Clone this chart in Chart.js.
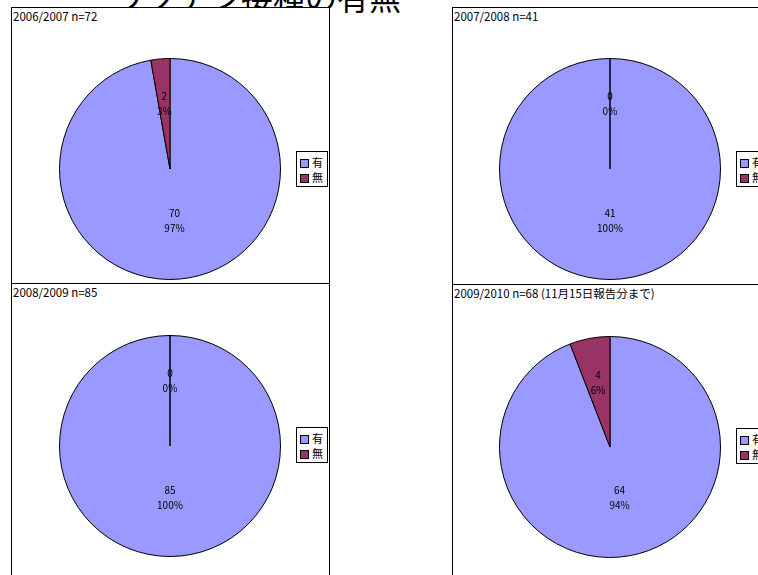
<!DOCTYPE html>
<html>
<head>
<meta charset="utf-8">
<script src="https://cdn.jsdelivr.net/npm/chart.js@4.4.0/dist/chart.umd.min.js"></script>
<style>
  html, body { margin: 0; padding: 0; background: #fff; width: 758px; height: 575px; overflow: hidden; position: relative; }
  .box { position: absolute; border: 1px solid #000; box-sizing: border-box; background: #fff; }
  .hdr { position: absolute; left: 1px; top: 1px; font: 11.5px "Noto Sans CJK JP", sans-serif; color: #000; white-space: nowrap; line-height: 14px; }
  canvas { position: absolute; }
  .legend { position: absolute; border: 1px solid #000; background: #fff; box-sizing: border-box; width: 32px; height: 36px; font: 11px "Noto Sans CJK JP", sans-serif; }
  .legend .it { position: absolute; left: 3px; height: 14px; line-height: 14px; white-space: nowrap; }
  .legend .sw { display: inline-block; width: 7px; height: 7px; border: 1px solid #000; vertical-align: middle; margin-right: 3px; margin-top: -2px; }
  .title { position: absolute; left: 0; width: 514px; top: -24px; text-align: center; font: 32px "Noto Sans CJK JP", sans-serif; font-weight: 400; color: #000; white-space: nowrap; line-height: 40px; }
</style>
</head>
<body>
<div class="title" id="title"></div>
<script>
// ---- data ----
const pageTitle = "ワクチン接種の有無";
const categories = ["有", "無"];
const chartTitles = ["2006/2007 n=72", "2007/2008 n=41", "2008/2009 n=85", "2009/2010 n=68 (11月15日報告分まで)"];
const values2006 = [70, 2];
const values2007 = [41, 0];
const values2008 = [85, 0];
const values2009 = [64, 4];
const sliceColors = ["#9999FF", "#993366"];

document.getElementById('title').textContent = pageTitle;

const panels = [
  { values: values2006, title: chartTitles[0], box: [11, 7, 319, 277], cv: [50, 49], lg: [296, 151], noBottom: false },
  { values: values2007, title: chartTitles[1], box: [452, 7, 320, 277], cv: [490, 49], lg: [736, 151], noBottom: true },
  { values: values2008, title: chartTitles[2], box: [11, 283, 319, 310], cv: [50, 326], lg: [296, 427], noBottom: false },
  { values: values2009, title: chartTitles[3], box: [452, 284, 320, 310], cv: [490, 327], lg: [736, 428], noBottom: false }
];

const labelPlugin = {
  id: 'sliceLabels',
  afterDatasetsDraw(chart) {
    const ctx = chart.ctx;
    const ds = chart.data.datasets[0];
    const total = ds.data.reduce((a, b) => a + b, 0);
    const meta = chart.getDatasetMeta(0);
    ctx.save();
    ctx.font = '10px "Noto Sans CJK JP", sans-serif';
    ctx.fillStyle = '#000';
    ctx.textAlign = 'center';
    ctx.textBaseline = 'middle';
    meta.data.forEach((arc, i) => {
      const p = arc.getProps(['x', 'y', 'startAngle', 'endAngle', 'outerRadius'], true);
      const mid = (p.startAngle + p.endAngle) / 2;
      const f = i === 0 ? 0.47 : 0.59;
      const r = p.outerRadius * f;
      const cx = p.x + Math.cos(mid) * r;
      const cy = p.y + Math.sin(mid) * r;
      const v = ds.data[i];
      const pct = Math.round(v / total * 100) + '%';
      ctx.fillText(String(v), cx, cy - 7.5);
      ctx.fillText(pct, cx, cy + 7.5);
    });
    ctx.restore();
  }
};

panels.forEach((pn) => {
  const box = document.createElement('div');
  box.className = 'box';
  box.style.left = pn.box[0] + 'px';
  box.style.top = pn.box[1] + 'px';
  box.style.width = pn.box[2] + 'px';
  box.style.height = pn.box[3] + 'px';
  if (pn.noBottom) box.style.borderBottom = 'none';
  const h = document.createElement('div');
  h.className = 'hdr';
  h.textContent = pn.title;
  box.appendChild(h);
  document.body.appendChild(box);

  const cv = document.createElement('canvas');
  cv.width = 240; cv.height = 240;
  cv.style.left = pn.cv[0] + 'px';
  cv.style.top = pn.cv[1] + 'px';
  cv.style.width = '240px'; cv.style.height = '240px';
  document.body.appendChild(cv);

  new Chart(cv, {
    type: 'pie',
    data: {
      labels: categories,
      datasets: [{
        data: pn.values,
        backgroundColor: sliceColors,
        borderColor: '#000',
        borderWidth: 1
      }]
    },
    options: {
      responsive: false,
      animation: false,
      devicePixelRatio: 1,
      layout: { padding: 9 },
      plugins: { legend: { display: false }, tooltip: { enabled: false } }
    },
    plugins: [labelPlugin]
  });

  const lg = document.createElement('div');
  lg.className = 'legend';
  lg.style.left = pn.lg[0] + 'px';
  lg.style.top = pn.lg[1] + 'px';
  categories.forEach((c, i) => {
    const it = document.createElement('div');
    it.className = 'it';
    it.style.top = (i === 0 ? 3 : 18) + 'px';
    const sw = document.createElement('span');
    sw.className = 'sw';
    sw.style.background = sliceColors[i];
    it.appendChild(sw);
    it.appendChild(document.createTextNode(c));
    lg.appendChild(it);
  });
  document.body.appendChild(lg);
});
</script>
</body>
</html>
